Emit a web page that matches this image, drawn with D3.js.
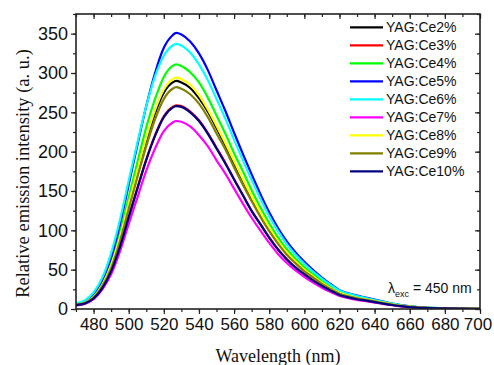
<!DOCTYPE html>
<html>
<head>
<meta charset="utf-8">
<script src="https://cdn.jsdelivr.net/npm/d3@7"></script>
<style>
  html, body { margin: 0; padding: 0; background: #fff; }
  svg { display: block; }
</style>
</head>
<body>
<svg id="chart" width="494" height="365"></svg>
<script>
// Emission spectra of YAG:Ce phosphors (excitation at 450 nm)
const wavelengths = [470,475,480,485,490,495,500,505,510,515,520,525,527,530,535,540,545,550,555,560,565,570,575,580,585,590,595,600,605,610,615,620,625,630,635,640,645,650,655,660,670,680,690,700];

const seriesNames = ["YAG:Ce2%","YAG:Ce3%","YAG:Ce4%","YAG:Ce5%","YAG:Ce6%","YAG:Ce7%","YAG:Ce8%","YAG:Ce9%","YAG:Ce10%"];
const seriesColors = ["#000000","#ff0000","#00ff00","#0000ff","#00ffff","#ff00ff","#ffff00","#808000","#000080"];

const ce2  = [5.5,7.5,15,30,54,89,131,173,214,249,275,288,290,288,281,268,251,230,208,185,163,141,120.5,101.5,85,71,59.5,49.5,41,33,26,20,16.7,14,12,9.9,7.8,5.8,4.1,2.9,1.5,0.8,0.5,0.3];
const ce3  = [5,7,13.5,27,48,79,117,154,190,221,245,257,259,258,251,240,224,205,186,165,145,125,108,91,76,63.5,53,44.5,36.5,29.5,23.5,18,15,12.5,10.7,8.9,7,5.2,3.7,2.6,1.3,0.7,0.4,0.3];
const ce4  = [6,8.5,16.5,33,59,96,142,187,231,267,295,309,311,309,301,288,269,246,223,198,175,151,129,109,91,76,64,53,44,35.5,28,21.5,18,15,13,10.5,8.4,6.2,4.4,3.1,1.6,0.9,0.5,0.4];
const ce5  = [6,9,18,36,65,107,158,209,258,300,332,348,351,349,340,325,304,278,252,224,197,171,146,123,103,86,72,60,49.5,40,31.5,24,20,17,14.5,12,9.5,7,5,3.5,1.8,1,0.6,0.4];
const ce6  = [7,11,21,40,71,113,163,212,258,296,322,335,337,335,326,311,291,267,242,215,189,164,140,118,99,82.5,69,57.5,47.5,38.5,30.5,23.5,19.5,16.5,14,11.5,9,6.8,4.8,3.4,1.7,1,0.6,0.4];
const ce7  = [4.5,6.5,12.5,25,44,73,108,142,176,204,226,237,239,238,232,221,207,189,172,153,134,116,99.5,84,70,58.5,49,41,33.5,27,21.5,16.5,13.8,11.6,9.9,8.2,6.5,4.8,3.4,2.4,1.2,0.7,0.4,0.3];
const ce8  = [5.5,8,15.5,31,56,91,134,177,218,253,279,292,294,292,285,272,254,233,211,188,165,143,122,103,86,72,60.5,50,41.5,33.5,26.5,20.5,17,14.3,12.2,10,8,5.9,4.2,3,1.5,0.9,0.5,0.4];
const ce9  = [5.5,7.5,14.5,29,52,86,127,168,207,241,267,280,282,280,273,261,244,223,203,180,158,137,117,99,83,69,58,48,40,32,25.5,19.5,16,13.7,11.6,9.6,7.6,5.6,4,2.8,1.4,0.8,0.5,0.3];
const ce10 = [5,7,13.3,26.6,47.8,78.6,116.5,153.5,189.5,220,244,256,258,257,250,239,223,204,185,164.5,144.5,124.5,107.5,90.5,75.5,63,52.5,44,36,29.3,23.3,17.8,14.8,12.4,10.6,8.8,6.9,5.1,3.6,2.5,1.3,0.7,0.4,0.3];

const seriesValues = [ce2, ce3, ce4, ce5, ce6, ce7, ce8, ce9, ce10];

const xTickValues = [480,500,520,540,560,580,600,620,640,660,680,700];
const yTickValues = [0,50,100,150,200,250,300,350];

const svg = d3.select("#chart");
const margin = { left: 76, right: 14, top: 14, bottom: 56 };
const W = 494, H = 365;
const x = d3.scaleLinear().domain([470, 700]).range([margin.left, W - margin.right]);
const y = d3.scaleLinear().domain([0, 375]).range([H - margin.bottom, margin.top]);

const x0 = x.range()[0], x1 = x.range()[1];
const yb = y.range()[0], yt = y.range()[1];

svg.append("clipPath").attr("id", "plotclip")
  .append("rect").attr("x", x0).attr("y", yt).attr("width", x1 - x0).attr("height", yb - yt);

// spectra
const line = d3.line()
  .x((d, i) => x(wavelengths[i]))
  .y(d => y(d))
  .curve(d3.curveMonotoneX);

const plot = svg.append("g").attr("clip-path", "url(#plotclip)");
seriesValues.forEach((vals, k) => {
  plot.append("path")
    .datum(vals)
    .attr("d", line)
    .attr("fill", "none")
    .attr("stroke", seriesColors[k])
    .attr("stroke-width", 2.2)
    .attr("stroke-linejoin", "round");
});

// axes
const tickFont = "'Liberation Sans', Arial, sans-serif";
const xMinor = d3.range(470, 701, 10);
const yMinor = d3.range(0, 376, 25);

svg.append("g").attr("transform", `translate(0,${yb})`)
  .call(d3.axisBottom(x).tickValues(xMinor).tickSize(3).tickFormat(""));
svg.append("g").attr("transform", `translate(0,${yb})`)
  .call(d3.axisBottom(x).tickValues(xTickValues).tickSize(5).tickPadding(4).tickFormat(d3.format("d")))
  .call(g => g.selectAll("text").attr("font-size", 17).attr("font-family", tickFont).attr("fill", "#111")
    .attr("dx", d => d === 700 ? -2.5 : 0));

svg.append("g").attr("transform", `translate(${x0},0)`)
  .call(d3.axisLeft(y).tickValues(yMinor).tickSize(3).tickFormat(""));
svg.append("g").attr("transform", `translate(${x0},0)`)
  .call(d3.axisLeft(y).tickValues(yTickValues).tickSize(5).tickPadding(3).tickFormat(d3.format("d")))
  .call(g => g.selectAll("text").attr("font-size", 18).attr("font-family", tickFont).attr("fill", "#111"));

// mirrored axes, ticks pointing inward
svg.append("g").attr("transform", `translate(0,${yt})`)
  .call(d3.axisBottom(x).tickValues(xMinor).tickSize(3).tickFormat(""));
svg.append("g").attr("transform", `translate(0,${yt})`)
  .call(d3.axisBottom(x).tickValues(xTickValues).tickSize(5).tickFormat(""));
svg.append("g").attr("transform", `translate(${x1},0)`)
  .call(d3.axisLeft(y).tickValues(yMinor).tickSize(3).tickFormat(""));
svg.append("g").attr("transform", `translate(${x1},0)`)
  .call(d3.axisLeft(y).tickValues(yTickValues).tickSize(5).tickFormat(""));

svg.selectAll(".domain").remove();
svg.selectAll(".tick line").attr("stroke", "#222").attr("stroke-width", 1.2);

// frame
svg.append("rect")
  .attr("x", x0).attr("y", yt).attr("width", x1 - x0).attr("height", yb - yt)
  .attr("fill", "none").attr("stroke", "#222").attr("stroke-width", 1.6);

// axis titles
const serif = "'Liberation Serif', 'Times New Roman', serif";
svg.append("text")
  .attr("x", (x0 + x1) / 2).attr("y", 362)
  .attr("text-anchor", "middle")
  .attr("font-family", serif).attr("font-size", 18).attr("fill", "#111")
  .text("Wavelength (nm)");

svg.append("text")
  .attr("transform", `translate(29,${(yt + yb) / 2 + 12}) rotate(-90)`)
  .attr("text-anchor", "middle")
  .attr("font-family", serif).attr("font-size", 18.5).attr("fill", "#111")
  .text("Relative emission intensity (a. u.)");

// legend
const legend = svg.append("g");
seriesNames.forEach((name, k) => {
  const cy = 27.3 + k * 18;
  legend.append("line")
    .attr("x1", 350).attr("x2", 383).attr("y1", cy).attr("y2", cy)
    .attr("stroke", seriesColors[k]).attr("stroke-width", 2.2);
  legend.append("text")
    .attr("x", 386).attr("y", cy + 5)
    .attr("font-family", tickFont).attr("font-size", 14).attr("fill", "#111")
    .text(name);
});

// excitation note
const note = svg.append("text")
  .attr("x", 388).attr("y", 293)
  .attr("font-family", tickFont).attr("font-size", 14).attr("fill", "#111");
note.append("tspan").text("λ");
note.append("tspan").attr("font-size", 9).attr("dy", 4).text("exc");
note.append("tspan").attr("dy", -4).text(" = 450 nm");
</script>
</body>
</html>
